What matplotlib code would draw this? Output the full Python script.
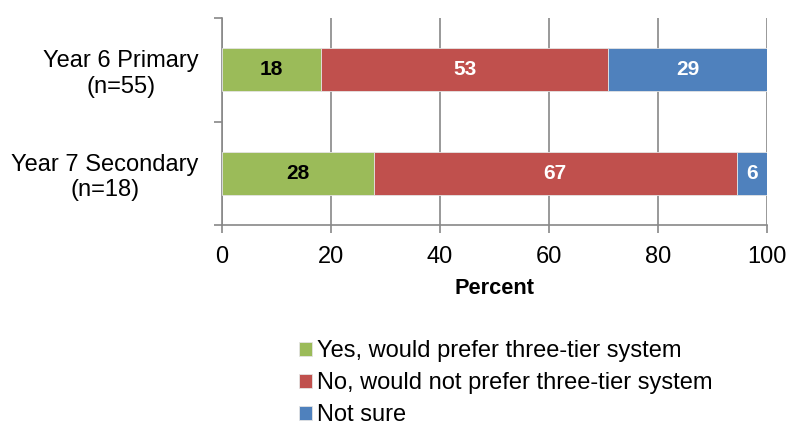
import matplotlib
matplotlib.use("Agg")
import matplotlib.pyplot as plt
import numpy as np

plt.rcParams['font.family'] = ['Liberation Sans', 'DejaVu Sans']

categories = ["Year 6 Primary\n(n=55)", "Year 7 Secondary\n(n=18)"]
series_names = ["Yes, would prefer three-tier system",
                "No, would not prefer three-tier system",
                "Not sure"]
yes_vals = [18.2, 27.8]
no_vals = [52.7, 66.7]
unsure_vals = [29.1, 5.6]
x_ticks = [0, 20, 40, 60, 80, 100]

colors = ["#9BBB59", "#C0504D", "#4F81BD"]
text_colors = ["black", "white", "white"]
grid_col = "#888888"

fig = plt.figure(figsize=(7.88, 4.28), dpi=100)
ax = fig.add_axes([222/788, 1-225/428, (767-222)/788, (225-18)/428])

ypos = np.arange(len(categories))
left = np.zeros(len(categories))
handles = []
for vals, name, col, tcol in zip([yes_vals, no_vals, unsure_vals], series_names, colors, text_colors):
    vals = np.array(vals)
    bars = ax.barh(ypos, vals, left=left, height=0.42, color=col, label=name,
                   edgecolor="#e4e4e4", linewidth=0.6, zorder=3)
    handles.append(bars)
    for y, l, v in zip(ypos, left, vals):
        ax.text(l + v/2, y, f"{v:.0f}", ha="center", va="center",
                color=tcol, fontsize=15, fontweight="bold", zorder=4)
    left += vals

ax.set_xlim(0, 100)
ax.set_ylim(1.5, -0.5)
ax.set_xticks(x_ticks)
ax.set_xticklabels([str(t) for t in x_ticks], fontsize=17)
ax.set_yticks([-0.5, 0.5, 1.5], minor=False)
ax.set_yticklabels([])
ax.set_yticks(ypos, minor=True)
ax.set_yticklabels(categories, minor=True, fontsize=17, ha="right", multialignment="center")
ax.tick_params(axis="y", which="minor", length=0, pad=17)
ax.tick_params(axis="y", which="major", length=6, color=grid_col, width=1.2)
ax.tick_params(axis="x", length=6, color=grid_col, width=1.2, pad=9)

ax.xaxis.grid(True, color=grid_col, linewidth=1.2, zorder=0)
for s in ["top", "right"]:
    ax.spines[s].set_visible(False)
for s in ["left", "bottom"]:
    ax.spines[s].set_color(grid_col)
    ax.spines[s].set_linewidth(1.2)
ax.spines["bottom"].set_bounds(0, 100)

ax.set_xlabel("Percent", fontsize=15.7, fontweight="bold", labelpad=7)

fig.legend(handles=handles, labels=series_names, loc="upper left",
           bbox_to_anchor=(290/788, 1-331/428), frameon=False, fontsize=17,
           handlelength=0.55, handleheight=0.55, handletextpad=0.2,
           labelspacing=0.42, borderaxespad=0)

fig.savefig("out.png", dpi=100)
